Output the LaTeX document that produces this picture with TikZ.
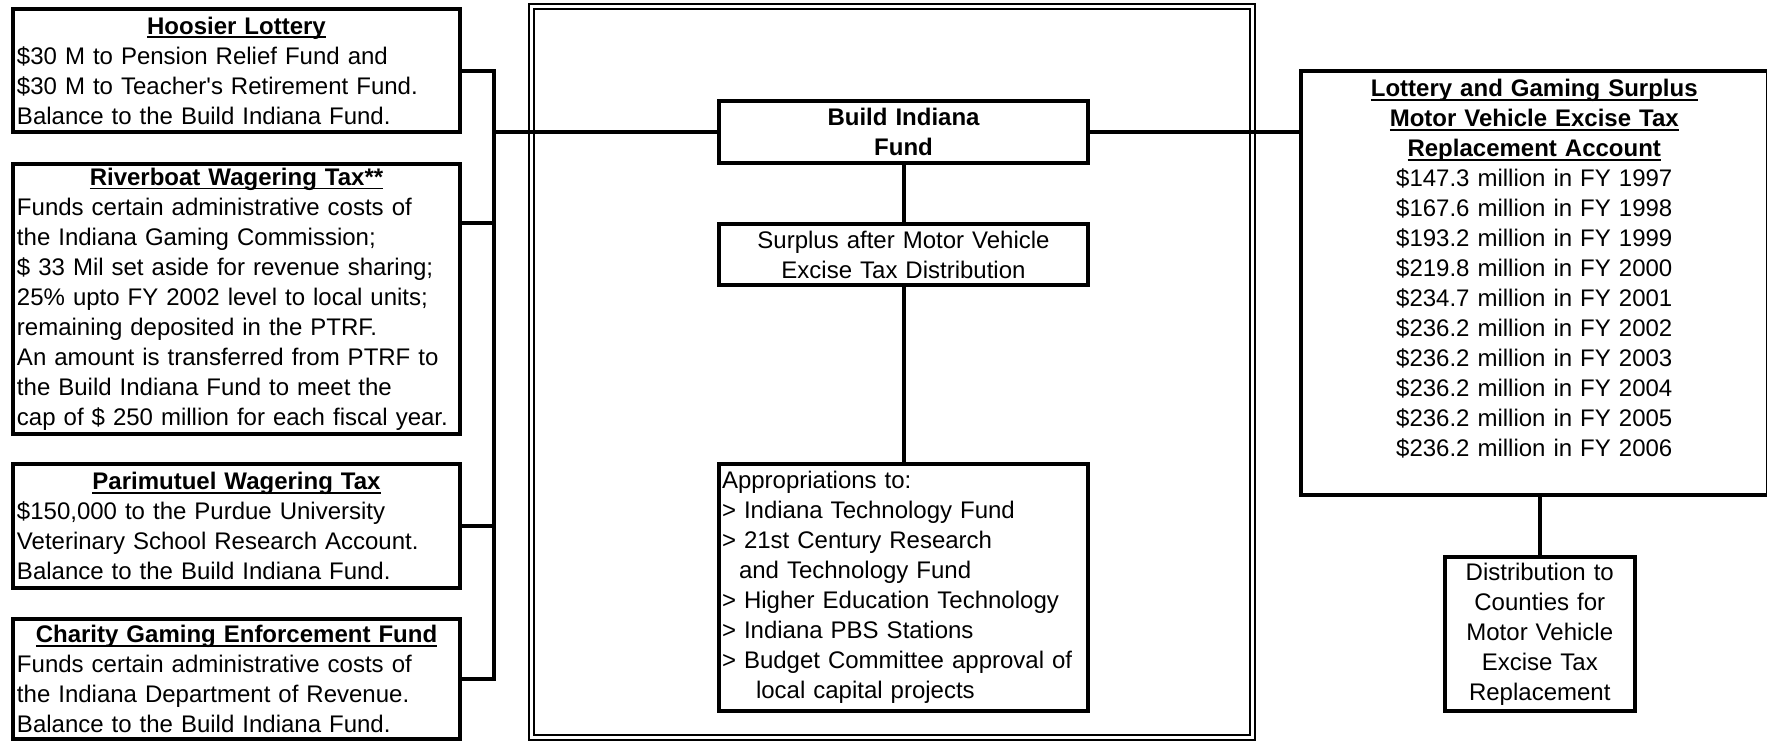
\documentclass[tikz,border=0pt]{standalone}
\usepackage{fontspec}
\setmainfont{Liberation Sans}
\usepackage{tikz}
\usetikzlibrary{positioning}

% underline at a fixed depth below the baseline
\newcommand\undl[1]{\setbox0\hbox{#1}\rlap{\rule[-2pt]{\wd0}{0.85pt}}\box0}
\newcommand\boxtitle[1]{\makebox[\hsize]{\bfseries\undl{#1}}}

\begin{document}
\begin{tikzpicture}[x=0.5pt, y=-0.5pt, font=\fontsize{12}{15}\selectfont]
		\tikzstyle{srcbox}=[draw=black, line width=2pt, rectangle, anchor=north west, inner xsep=2pt, inner ysep=0pt, minimum width=223.5pt, text width=219.5pt, align=left]
		\tikzstyle{midbox}=[draw=black, line width=2pt, rectangle, anchor=north west, inner xsep=1.5pt, inner ysep=0pt, minimum width=184.5pt, text width=181.5pt]
		\tikzstyle{link}=[draw=black, line width=2pt]
		
		\useasboundingbox (0,0) rectangle (1767,740);
		
		% Frame
		\draw[line width=0.8pt, double, double distance=1.7pt] (531.5,6.75) rectangle (1252.5,737.25);
		
		% Sources
		\node[srcbox, minimum height=61.5pt] at (11,7) (hoosier) {\boxtitle{Hoosier Lottery}\\
			\$30 M to Pension Relief Fund and\\
			\$30 M to Teacher\textquotesingle s Retirement Fund.\\
			Balance to the Build Indiana Fund.};
		\node[srcbox, minimum height=135pt] at (11,162) (riverboat) {\boxtitle{Riverboat Wagering Tax**}\\
			Funds certain administrative costs of\\
			the Indiana Gaming Commission;\\
			\$ 33 Mil set aside for revenue sharing;\\
			25\% upto FY 2002 level to local units;\\
			remaining deposited in the PTRF.\\
			An amount is transferred from PTRF to\\
			the Build Indiana Fund to meet the\\
			cap of \$ 250 million for each fiscal year.};
		\node[srcbox, minimum height=62pt] at (11,462) (parimutuel) {\boxtitle{Parimutuel Wagering Tax}\\
			\$150,000 to the Purdue University\\
			Veterinary School Research Account.\\
			Balance to the Build Indiana Fund.};
		\node[srcbox, minimum height=60pt] at (11,617) (charity) {\boxtitle{Charity Gaming Enforcement Fund}\\
			Funds certain administrative costs of\\
			the Indiana Department of Revenue.\\
			Balance to the Build Indiana Fund.};
		
		% Build Indiana Fund
		\node[midbox, align=center, minimum height=31pt, font=\fontsize{12}{15}\selectfont\bfseries] at (717,99) (build) {Build Indiana\\ Fund};
		\node[midbox, align=center, minimum height=30.5pt] at (717,222) (surplus) {Surplus after Motor Vehicle\\ Excise Tax Distribution};
		\node[midbox, align=left, minimum height=123.5pt] at (717,462) (approp) {Appropriations to:\\
			> Indiana Technology Fund\\
			> 21st Century Research\\
			\hspace*{8.5pt}and Technology Fund\\
			> Higher Education Technology\\
			> Indiana PBS Stations\\
			> Budget Committee approval of\\
			\hspace*{17pt}local capital projects};
		
		% Replacement account
		\node[draw=black, line width=2pt, rectangle, anchor=north west, inner sep=0pt, minimum width=233.25pt, minimum height=212pt, text width=229pt, align=center] at (1299,69) (lgs) {\textbf{\undl{Lottery and Gaming Surplus}}\\
			\textbf{\undl{Motor Vehicle Excise Tax}}\\
			\textbf{\undl{Replacement Account}}\\
			\$147.3 million in FY 1997\\
			\$167.6 million in FY 1998\\
			\$193.2 million in FY 1999\\
			\$219.8 million in FY 2000\\
			\$234.7 million in FY 2001\\
			\$236.2 million in FY 2002\\
			\$236.2 million in FY 2003\\
			\$236.2 million in FY 2004\\
			\$236.2 million in FY 2005\\
			\$236.2 million in FY 2006\\
			\mbox{}};
		\node[draw=black, line width=2pt, rectangle, anchor=north west, inner sep=0pt, minimum width=94.75pt, minimum height=77pt, text width=92pt, align=center] at (1443,555) (dist) {Distribution to\\ Counties for\\ Motor Vehicle\\ Excise Tax\\ Replacement};
		
		% Sources -> Build Indiana Fund
		\coordinate (bus) at (494,0);
		\coordinate (rbout) at ([yshift=-30.5pt]riverboat.north east);
		\draw[link] (hoosier.east) -- (hoosier.east -| bus) -- (charity.east -| bus) -- (charity.east);
		\draw[link] (rbout) -- (rbout -| bus);
		\draw[link] (parimutuel.east) -- (parimutuel.east -| bus);
		\draw[link] (bus |- build.west) -- (build.west);
		
		% Build Indiana Fund -> Surplus -> Appropriations
		\foreach \a/\b in {build/surplus, surplus/approp}
		\draw[link] (\a) -- (\b);
		
		% Build Indiana Fund -> Replacement account -> Counties
		\draw[link] (build.east) -- (build.east -| lgs.west);
		\draw[link] (dist.north) -- (dist.north |- lgs.south);
		
\end{tikzpicture}
\end{document}
